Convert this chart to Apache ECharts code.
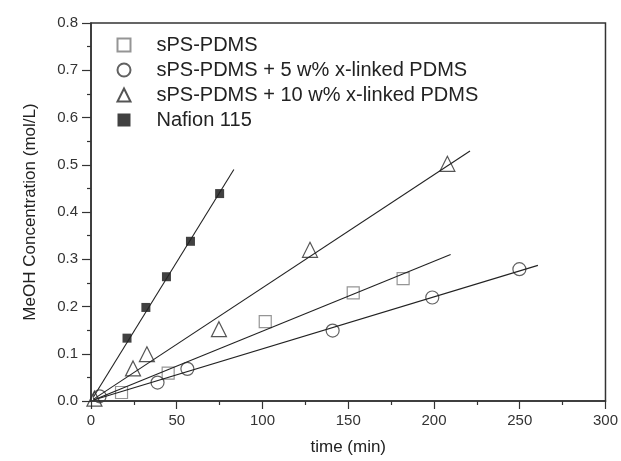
<!DOCTYPE html>
<html>
<head>
<meta charset="utf-8">
<script src="https://cdn.jsdelivr.net/npm/echarts@6/dist/echarts.min.js"></script>
<style>
html,body{margin:0;padding:0;background:#fff;}
#chart{width:621px;height:461px;}
</style>
</head>
<body>
<div id="chart"></div>
<script>
// ---- data ----
var seriesNames = ['sPS-PDMS', 'sPS-PDMS + 5 w% x-linked PDMS', 'sPS-PDMS + 10 w% x-linked PDMS', 'Nafion 115'];

var spsPdms = [[17.8, 0.018], [45, 0.059], [101.6, 0.168], [152.9, 0.229], [182, 0.259]];
var sps5 = [[5, 0.01], [38.8, 0.039], [56.2, 0.068], [140.9, 0.149], [199, 0.219], [249.8, 0.279]];
var sps10 = [[2, 0.005], [24.5, 0.069], [32.6, 0.099], [74.6, 0.152], [127.7, 0.32], [207.8, 0.502]];
var nafion = [[21, 0.133], [32, 0.198], [44, 0.263], [58, 0.338], [75, 0.439]];

// linear fit lines (end points)
var spsPdmsFit = [[1.5, 0.002], [209.7, 0.31]];
var sps5Fit = [[1.5, 0.002], [260.6, 0.287]];
var sps10Fit = [[1.5, 0.004], [221, 0.529]];
var nafionFit = [[1.5, 0.009], [83.3, 0.49]];

var xTicks = [0, 50, 100, 150, 200, 250, 300];
var yTicks = [0.0, 0.1, 0.2, 0.3, 0.4, 0.5, 0.6, 0.7, 0.8];

var FONT = '"Liberation Sans", Arial, sans-serif';
var AX = '#333';

function fitLine(data) {
  return {
    type: 'line', data: data, showSymbol: false, silent: true, z: 3,
    lineStyle: { color: '#222', width: 1.1 }, animation: false
  };
}

var chart = echarts.init(document.getElementById('chart'), null, { renderer: 'canvas' });
chart.setOption({
  animation: false,
  backgroundColor: '#fff',
  grid: { left: 91, right: 14, top: 23, bottom: 58, show: true, borderColor: AX, borderWidth: 1.5, containLabel: false },
  legend: {
    data: seriesNames,
    orient: 'vertical',
    left: 116.5, top: 35, padding: 0,
    itemWidth: 13, itemHeight: 13, itemGap: 5,
    symbolKeepAspect: true,
    textStyle: { fontFamily: FONT, fontSize: 20, color: '#222', lineHeight: 20, padding: [0, 0, 0, 21] },
    selectedMode: false
  },
  xAxis: {
    type: 'value', min: xTicks[0], max: xTicks[xTicks.length - 1], interval: 50,
    name: 'time (min)', nameLocation: 'middle', nameGap: 38,
    nameTextStyle: { fontFamily: FONT, fontSize: 17, color: '#222' },
    axisLine: { show: true, onZero: false, lineStyle: { color: AX, width: 1.5 } },
    axisTick: { show: true, inside: false, length: 8, lineStyle: { color: AX, width: 1.2 } },
    minorTick: { show: true, splitNumber: 2, length: 4, lineStyle: { color: AX, width: 1.2 } },
    axisLabel: { fontFamily: FONT, fontSize: 15, color: '#333', margin: 12 },
    splitLine: { show: false }
  },
  yAxis: {
    type: 'value', min: yTicks[0], max: yTicks[yTicks.length - 1], interval: 0.1,
    name: 'MeOH Concentration (mol/L)', nameLocation: 'middle', nameGap: 52, nameRotate: 90,
    nameTextStyle: { fontFamily: FONT, fontSize: 17, color: '#222' },
    axisLine: { show: true, onZero: false, lineStyle: { color: AX, width: 1.5 } },
    axisTick: { show: true, inside: false, length: 9, lineStyle: { color: AX, width: 1.2 } },
    minorTick: { show: true, splitNumber: 2, length: 4, lineStyle: { color: AX, width: 1.2 } },
    axisLabel: { fontFamily: FONT, fontSize: 15, color: '#333', margin: 13, formatter: function (v) { return v.toFixed(1); } },
    splitLine: { show: false }
  },
  series: [
    { name: seriesNames[0], type: 'scatter', data: spsPdms, symbol: 'rect', symbolSize: 12, z: 2,
      itemStyle: { color: 'rgba(255,255,255,0)', borderColor: '#7a7a7a', borderWidth: 1.2 } },
    { name: seriesNames[1], type: 'scatter', data: sps5, symbol: 'circle', symbolSize: 13, z: 2,
      itemStyle: { color: 'rgba(255,255,255,0)', borderColor: '#3a3a3a', borderWidth: 1.2 } },
    { name: seriesNames[2], type: 'scatter', data: sps10, symbol: 'triangle', symbolSize: 15, z: 2,
      itemStyle: { color: 'rgba(255,255,255,0)', borderColor: '#2a2a2a', borderWidth: 1.2 } },
    { name: seriesNames[3], type: 'scatter', data: nafion, symbol: 'rect', symbolSize: 9, z: 2,
      itemStyle: { color: '#111', borderColor: '#111', borderWidth: 0 } },
    fitLine(spsPdmsFit), fitLine(sps5Fit), fitLine(sps10Fit), fitLine(nafionFit)
  ]
});
</script>
</body>
</html>
